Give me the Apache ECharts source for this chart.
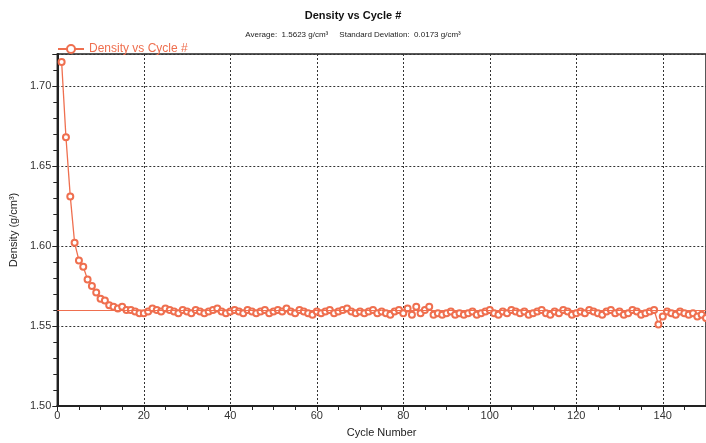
<!DOCTYPE html>
<html>
<head>
<meta charset="utf-8">
<script src="https://cdn.jsdelivr.net/npm/echarts@6/dist/echarts.min.js"></script>
<style>
  html, body { margin: 0; padding: 0; background: #fff; }
  #chart-wrapper { width: 706px; height: 443px; }
</style>
</head>
<body>
<div id="chart-wrapper"></div>
<script>
// density per cycle (cycles 1..150)
const densityValues = [
  1.715, 1.668, 1.631, 1.602, 1.591, 1.587, 1.579, 1.575, 1.571, 1.567,
  1.566, 1.563, 1.562, 1.561, 1.562, 1.560, 1.560, 1.559, 1.558, 1.558,
  1.559, 1.561, 1.560, 1.559, 1.561,
  1.560, 1.559, 1.558, 1.560, 1.559, 1.558, 1.560, 1.559, 1.558, 1.559,
  1.560, 1.561, 1.559, 1.558, 1.559,
  1.560, 1.559, 1.558, 1.560, 1.559, 1.558, 1.559, 1.560, 1.558, 1.559,
  1.560, 1.559, 1.561, 1.559, 1.558, 1.560, 1.559, 1.558, 1.557, 1.559,
  1.558, 1.559, 1.560, 1.558, 1.559, 1.560, 1.561, 1.559, 1.558, 1.559,
  1.558, 1.559, 1.560, 1.558, 1.559, 1.558, 1.557, 1.559, 1.560, 1.558,
  1.561, 1.557, 1.562, 1.558, 1.560, 1.562, 1.557, 1.558, 1.557, 1.558,
  1.559, 1.557, 1.558, 1.557, 1.558, 1.559, 1.557, 1.558, 1.559, 1.560,
  1.558, 1.557, 1.559, 1.558, 1.560, 1.559, 1.558, 1.559, 1.557, 1.558,
  1.559, 1.560, 1.558, 1.557, 1.559, 1.558, 1.560, 1.559, 1.557, 1.558,
  1.559, 1.558, 1.560, 1.559, 1.558, 1.557, 1.559, 1.560, 1.558, 1.559,
  1.557, 1.558, 1.560, 1.559, 1.557, 1.558, 1.559, 1.560, 1.551, 1.556,
  1.559, 1.558, 1.557, 1.559, 1.558, 1.557, 1.558, 1.556, 1.557, 1.555
];
const cycles = densityValues.map((d, i) => i + 1);
const AVERAGE = 1.5623;
const STD_DEV = 0.0173;

const LINE_COLOR = "#ef6f4f";
const FONT = "Liberation Sans, Arial, sans-serif";

const chartDom = document.getElementById("chart-wrapper");
const chart = echarts.init(chartDom, null, { renderer: "canvas" });

const seriesData = cycles.map((c, i) => [c, densityValues[i]]);

const gridLine = () => ({
  show: true,
  lineStyle: { color: "#333", width: 1, type: [2, 2] },
});

const option = {
  animation: false,
  backgroundColor: "#fff",
  textStyle: { fontFamily: FONT },
  title: {
    text: "Density vs Cycle #",
    subtext:
      "Average:  " + AVERAGE.toFixed(4) + " g/cm\u00b3     Standard Deviation:  " +
      STD_DEV.toFixed(4) + " g/cm\u00b3",
    left: "center",
    top: 5,
    itemGap: 10,
    textStyle: { fontFamily: FONT, fontSize: 11, fontWeight: "bold", color: "#111" },
    subtextStyle: { fontFamily: FONT, fontSize: 8, color: "#222" },
  },
  legend: {
    left: 52,
    top: 38,
    itemWidth: 26,
    itemHeight: 10,
    itemGap: 5,
    textStyle: { fontFamily: FONT, fontSize: 12, color: LINE_COLOR },
    data: ["Density vs Cycle #"],
  },
  grid: {
    left: 56,
    top: 54,
    bottom: 35,
    right: -5,
    show: true,
    borderColor: "#222",
    borderWidth: 1.5,
  },
  xAxis: {
    type: "value",
    min: 0,
    max: 150,
    interval: 20,
    name: "Cycle Number",
    nameLocation: "middle",
    nameGap: 21,
    nameTextStyle: { fontFamily: FONT, fontSize: 11, color: "#222" },
    axisLine: { show: true, lineStyle: { color: "#222", width: 2 } },
    axisTick: { show: true, length: 5, lineStyle: { color: "#222" } },
    minorTick: { show: true, splitNumber: 4, length: 4, lineStyle: { color: "#222" } },
    axisLabel: { fontFamily: FONT, fontSize: 11, color: "#333", margin: 4, showMaxLabel: false },
    splitLine: gridLine(),
  },
  yAxis: {
    type: "value",
    min: 1.5,
    max: 1.72,
    interval: 0.05,
    name: "Density (g/cm\u00b3)",
    nameLocation: "middle",
    nameGap: 37,
    nameTextStyle: { fontFamily: FONT, fontSize: 11, color: "#222" },
    axisLine: { show: true, lineStyle: { color: "#222", width: 2 } },
    axisTick: { show: true, length: 5, lineStyle: { color: "#222" } },
    minorTick: { show: true, splitNumber: 5, length: 4, lineStyle: { color: "#222" } },
    axisLabel: {
      fontFamily: FONT,
      fontSize: 11,
      color: "#333",
      margin: 6,
      showMaxLabel: false,
      formatter: (v) => v.toFixed(2),
    },
    splitLine: gridLine(),
  },
  series: [
    {
      name: "Density vs Cycle #",
      type: "line",
      data: seriesData,
      symbol: "emptyCircle",
      symbolSize: 6,
      showAllSymbol: true,
      color: LINE_COLOR,
      z: 2,
      lineStyle: { color: LINE_COLOR, width: 1.3, type: "solid" },
      itemStyle: { color: LINE_COLOR, borderColor: LINE_COLOR, borderWidth: 1.2 },
    },
    {
      // average line, drawn on top of the markers
      name: "Average",
      type: "line",
      data: [],
      z: 20,
      markLine: {
        silent: true,
        symbol: "none",
        z: 20,
        label: { show: false },
        lineStyle: { color: LINE_COLOR, width: 1, type: "solid" },
        data: [{ yAxis: AVERAGE }],
      },
    },
  ],
};

chart.setOption(option);
</script>
</body>
</html>
